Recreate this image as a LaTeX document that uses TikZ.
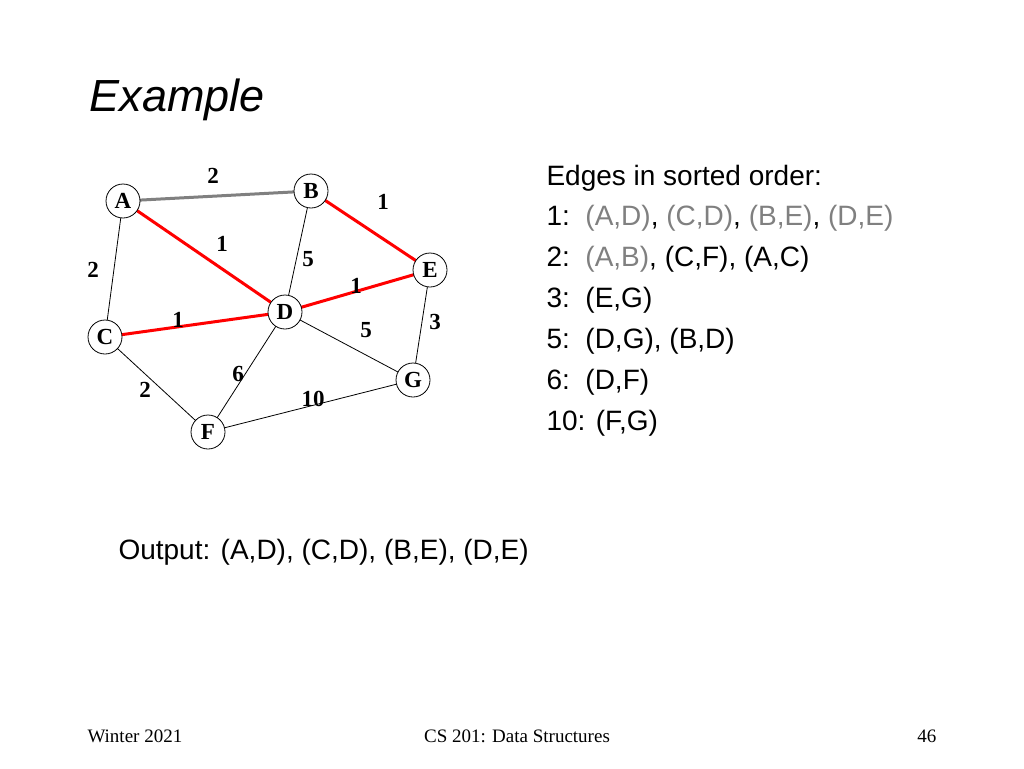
\documentclass[tikz,border=0pt]{standalone}
\usepackage{fontspec}
\setsansfont{Liberation Sans}
\setmainfont{Liberation Serif}
\begin{document}
\begin{tikzpicture}[x=1pt,y=-1pt,
 vert/.style={circle,draw,thick,fill=white,minimum size=34pt,inner sep=0pt,font=\fontsize{23}{23}\selectfont\bfseries},
 thin/.style={draw,line width=0.8pt},
 redE/.style={draw,red,line width=3pt},
 grayE/.style={draw,gray,line width=3pt},
 wt/.style={font=\fontsize{23}{23}\selectfont\bfseries},
 txt/.style={anchor=west,font=\sffamily\fontsize{28}{28}\selectfont}]
\useasboundingbox (0,0) rectangle (1024,768);
\node[anchor=west,font=\sffamily\itshape\fontsize{45}{45}\selectfont] (title) at (86,100) {Example};
\coordinate (A) at (123,201);
\coordinate (B) at (311,191);
\coordinate (E) at (430,270);
\coordinate (D) at (285,312);
\coordinate (C) at (105,337);
\coordinate (G) at (413,380);
\coordinate (F) at (208,432);
\path[thin] (A)--(C) (B)--(D) (C)--(F) (D)--(F) (D)--(G) (E)--(G) (F)--(G);
\path[grayE] (A)--(B);
\path[redE] (A)--(D) (B)--(E) (D)--(E) (C)--(D);
\foreach \n in {A,B,E,D,C,G,F}{\node[vert] (n\n) at (\n) {\n};}
\node[wt] (w1) at (213,176) {2};
\node[wt] (w2) at (383,202) {1};
\node[wt] (w3) at (222,244) {1};
\node[wt] (w4) at (308,259) {5};
\node[wt] (w5) at (93,270) {2};
\node[wt] (w6) at (356,286) {1};
\node[wt] (w7) at (178,320) {1};
\node[wt] (w8) at (366,330) {5};
\node[wt] (w9) at (435,322) {3};
\node[wt] (w10) at (238,374) {6};
\node[wt] (w11) at (145,390) {2};
\node[wt] (w12) at (313,399) {10};
\node[txt] (t0) at (543,178) {Edges in sorted order:};
\node[txt] (t1) at (543,218) {1:\ \ \textcolor{gray}{(A,D)}, \textcolor{gray}{(C,D)}, \textcolor{gray}{(B,E)}, \textcolor{gray}{(D,E)}};
\node[txt] (t2) at (543,259) {2:\ \ \textcolor{gray}{(A,B)}, (C,F), (A,C)};
\node[txt] (t3) at (543,300) {3:\ \ (E,G)};
\node[txt] (t4) at (543,341) {5:\ \ (D,G), (B,D)};
\node[txt] (t5) at (543,382) {6:\ \ (D,F)};
\node[txt] (t6) at (543,423) {10: (F,G)};
\node[txt] (out) at (115,552) {Output: (A,D), (C,D), (B,E), (D,E)};
\node[anchor=west,font=\fontsize{19}{19}\selectfont] (f1) at (84,736) {Winter 2021};
\node[font=\fontsize{19}{19}\selectfont] (f2) at (517,736) {CS 201: Data Structures};
\node[anchor=east,font=\fontsize{19}{19}\selectfont] (f3) at (940,736) {46};
\end{tikzpicture}
\end{document}
